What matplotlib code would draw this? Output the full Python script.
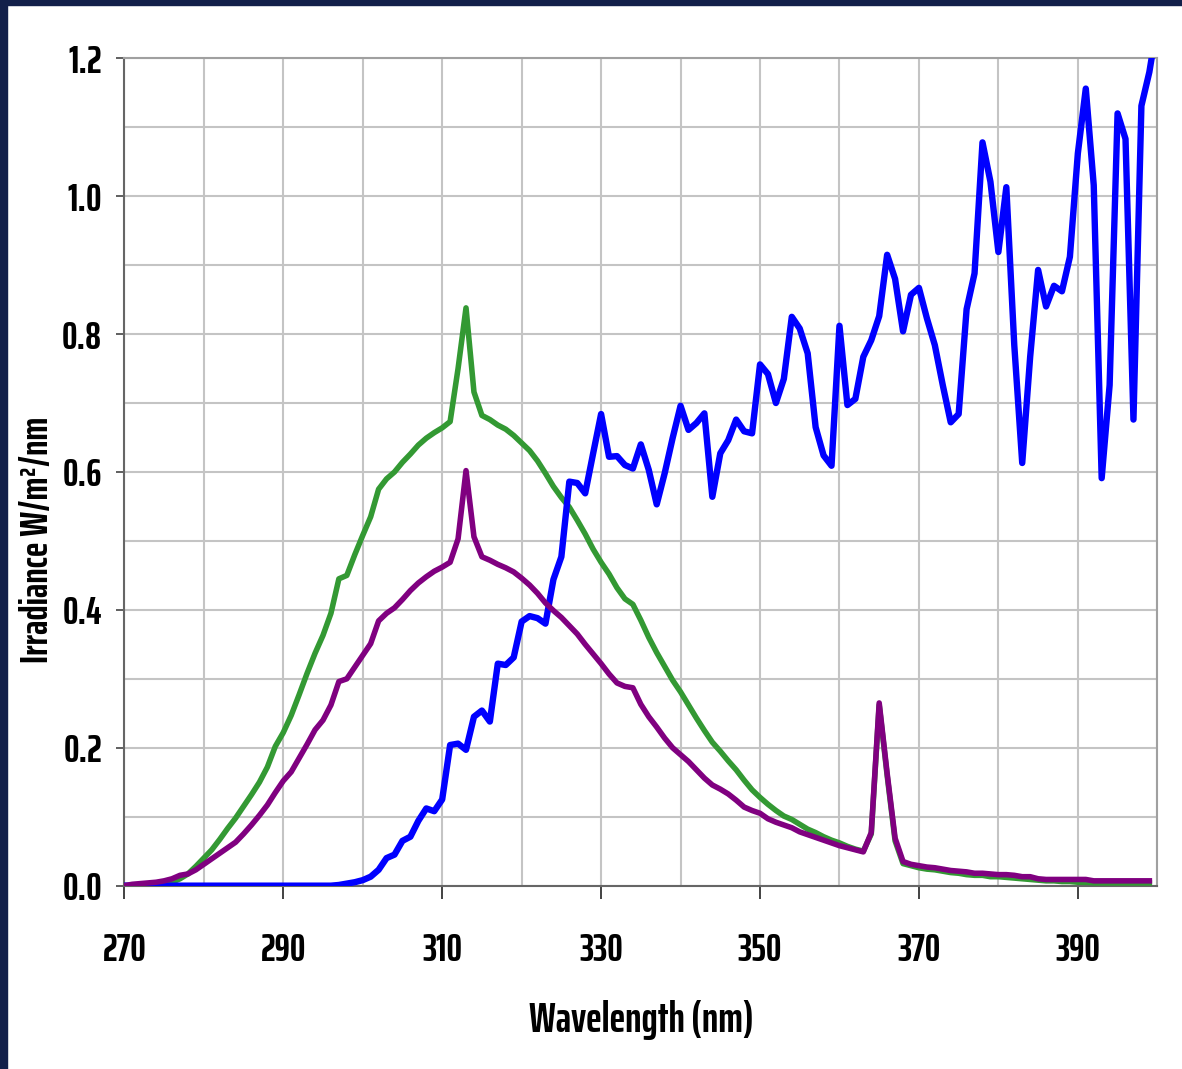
import matplotlib
matplotlib.use("Agg")
import matplotlib.pyplot as plt
from matplotlib.patches import Rectangle
import numpy as np

# wavelength grid (nm), 1 nm steps
wavelength = np.arange(270, 401)

# green curve, 270..399 nm
green = [
    0.0, 0.0, 0.0, 0.0, 0.001, 0.002, 0.005, 0.010, 0.017, 0.028,
    0.040, 0.052, 0.067, 0.083, 0.098, 0.115, 0.132, 0.150, 0.172, 0.202,
    0.222, 0.247, 0.277, 0.308, 0.337, 0.363, 0.395, 0.445, 0.450, 0.480,
    0.508, 0.535, 0.575, 0.590, 0.600, 0.614, 0.626, 0.639, 0.649, 0.657,
    0.664, 0.673, 0.750, 0.838, 0.716, 0.682, 0.676, 0.668, 0.662, 0.653,
    0.642, 0.631, 0.616, 0.598, 0.579, 0.563, 0.549, 0.530, 0.510, 0.488,
    0.469, 0.452, 0.432, 0.416, 0.408, 0.385, 0.360, 0.338, 0.318, 0.298,
    0.281, 0.262, 0.243, 0.225, 0.208, 0.195, 0.181, 0.168, 0.153, 0.139,
    0.128, 0.118, 0.109, 0.101, 0.096, 0.089, 0.082, 0.077, 0.071, 0.066,
    0.062, 0.057, 0.053, 0.050, 0.075, 0.262, 0.160, 0.065, 0.032, 0.029,
    0.026, 0.024, 0.023, 0.021, 0.019, 0.018, 0.016, 0.015, 0.015, 0.013,
    0.013, 0.012, 0.011, 0.010, 0.009, 0.008, 0.007, 0.007, 0.006, 0.006,
    0.005, 0.005, 0.004, 0.004, 0.004, 0.004, 0.004, 0.004, 0.004, 0.004,
]

# purple curve, 270..399 nm
purple = [
    0.0, 0.002, 0.003, 0.004, 0.005, 0.007, 0.010, 0.015, 0.017, 0.023,
    0.031, 0.039, 0.047, 0.055, 0.063, 0.075, 0.088, 0.102, 0.117, 0.135,
    0.152, 0.165, 0.185, 0.205, 0.226, 0.240, 0.262, 0.296, 0.300, 0.317,
    0.334, 0.351, 0.384, 0.395, 0.403, 0.415, 0.428, 0.439, 0.448, 0.456,
    0.462, 0.469, 0.503, 0.602, 0.506, 0.477, 0.472, 0.466, 0.461, 0.455,
    0.446, 0.436, 0.424, 0.410, 0.399, 0.389, 0.377, 0.365, 0.350, 0.336,
    0.322, 0.307, 0.294, 0.289, 0.287, 0.263, 0.245, 0.230, 0.214, 0.200,
    0.190, 0.180, 0.168, 0.156, 0.146, 0.140, 0.133, 0.124, 0.114, 0.109,
    0.105, 0.097, 0.092, 0.088, 0.084, 0.078, 0.074, 0.070, 0.066, 0.062,
    0.058, 0.055, 0.052, 0.049, 0.077, 0.265, 0.163, 0.069, 0.035, 0.031,
    0.029, 0.027, 0.026, 0.024, 0.022, 0.021, 0.020, 0.018, 0.018, 0.017,
    0.016, 0.016, 0.015, 0.013, 0.013, 0.010, 0.009, 0.009, 0.009, 0.009,
    0.009, 0.009, 0.007, 0.007, 0.007, 0.007, 0.007, 0.007, 0.007, 0.007,
]

# blue curve, 270..400 nm
blue = [
    0.0, 0.0, 0.0, 0.0, 0.0, 0.0, 0.0, 0.0, 0.0, 0.0,
    0.0, 0.0, 0.0, 0.0, 0.0, 0.0, 0.0, 0.0, 0.0, 0.0,
    0.0, 0.0, 0.0, 0.0, 0.0, 0.0, 0.0, 0.001, 0.003, 0.005,
    0.008, 0.013, 0.023, 0.040, 0.045, 0.065, 0.071, 0.094, 0.112, 0.108,
    0.125, 0.204, 0.206, 0.197, 0.245, 0.254, 0.238, 0.322, 0.320, 0.331,
    0.383, 0.391, 0.388, 0.380, 0.444, 0.477, 0.586, 0.584, 0.569, 0.627,
    0.684, 0.622, 0.623, 0.610, 0.605, 0.640, 0.603, 0.553, 0.598, 0.649,
    0.696, 0.661, 0.671, 0.685, 0.564, 0.627, 0.646, 0.676, 0.659, 0.656,
    0.756, 0.742, 0.700, 0.735, 0.825, 0.808, 0.772, 0.665, 0.624, 0.609,
    0.812, 0.697, 0.706, 0.767, 0.791, 0.826, 0.915, 0.880, 0.804, 0.857,
    0.867, 0.823, 0.784, 0.726, 0.672, 0.684, 0.836, 0.888, 1.078, 1.021,
    0.919, 1.013, 0.784, 0.613, 0.767, 0.893, 0.840, 0.870, 0.862, 0.912,
    1.062, 1.156, 1.016, 0.591, 0.726, 1.120, 1.083, 0.676, 1.131, 1.180,
    1.250,
]

plt.rcParams["font.family"] = ["Saira ExtraCondensed", "DejaVu Sans"]
plt.rcParams["font.weight"] = "bold"

fig = plt.figure(figsize=(11.82, 10.69), dpi=100)
ax = fig.add_axes([0.1052, 0.1715, 0.8739, 0.774])

# dark frame strips on left and top
navy = "#13204a"
fig.patches.append(Rectangle((0, 0), 0.0058, 1, transform=fig.transFigure, color=navy, zorder=0))
fig.patches.append(Rectangle((0, 0.9955), 1, 0.0045, transform=fig.transFigure, color=navy, zorder=0))

n = len(green)
ax.plot(wavelength[:n], green, color="#339933", linewidth=4.0, zorder=3)
ax.plot(wavelength, blue, color="#0000ff", linewidth=4.6, zorder=4)
ax.plot(wavelength[:n], purple, color="#800080", linewidth=4.0, zorder=5)

ax.set_xlim(270, 400)
ax.set_ylim(0, 1.2)
ax.set_xticks(np.arange(270, 400, 20))
ax.set_yticks(np.arange(0, 1.21, 0.2))
ax.set_yticklabels([f"{v:.1f}" for v in np.arange(0, 1.21, 0.2)])
ax.set_xticks(np.arange(270, 401, 10), minor=True)
ax.set_yticks(np.arange(0, 1.21, 0.1), minor=True)
ax.grid(which="both", color="#c4c4c4", linewidth=1.5, zorder=1)
ax.set_axisbelow(True)

ax.tick_params(axis="x", which="major", direction="out", length=9.5, width=1.2,
               color="#222222", pad=24, labelsize=28)
ax.tick_params(axis="y", which="major", direction="out", length=6, width=1.2,
               color="#444444", pad=10, labelsize=28)
ax.tick_params(which="minor", length=0)

for side in ["left", "bottom"]:
    ax.spines[side].set_color("#666666")
    ax.spines[side].set_linewidth(1.5)
for side in ["top", "right"]:
    ax.spines[side].set_color("#a0a0a0")
    ax.spines[side].set_linewidth(1.5)

ax.set_xlabel("Wavelength (nm)", fontsize=30, fontweight="bold", va="center")
ax.xaxis.set_label_coords(0.5, -0.162)
ax.set_ylabel("Irradiance W/m\u00b2/nm", fontsize=28, fontweight="bold", va="center")
ax.yaxis.set_label_coords(-0.084, 0.418)

fig.savefig("out.png", dpi=100)
